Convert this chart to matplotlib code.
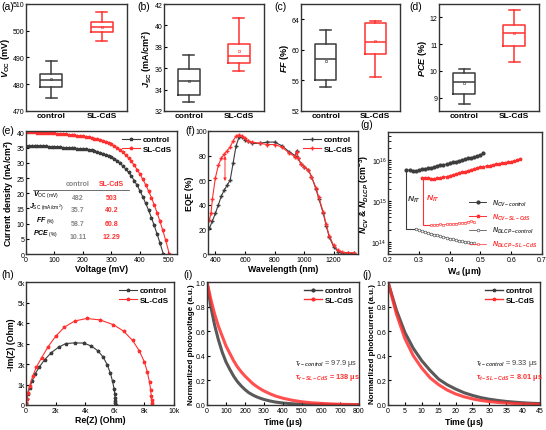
import numpy as np
import matplotlib
matplotlib.use("Agg")
import matplotlib.pyplot as plt
from matplotlib.ticker import FuncFormatter

plt.rcParams['font.family'] = ['Liberation Sans', 'DejaVu Sans']
plt.rcParams['mathtext.fontset'] = 'custom'
plt.rcParams['mathtext.it'] = 'Liberation Sans:italic:bold'
plt.rcParams['mathtext.rm'] = 'Liberation Sans:bold'
plt.rcParams['mathtext.bf'] = 'Liberation Sans:bold'
plt.rcParams['mathtext.default'] = 'regular'
plt.rcParams['axes.linewidth'] = 1.0
plt.rcParams['axes.edgecolor'] = '#333333'
plt.rcParams['xtick.direction'] = 'in'
plt.rcParams['ytick.direction'] = 'in'
plt.rcParams['xtick.major.size'] = 2.5
plt.rcParams['ytick.major.size'] = 2.5
plt.rcParams['xtick.major.pad'] = 1.5
plt.rcParams['ytick.major.pad'] = 1.0
plt.rcParams['xtick.labelsize'] = 5
plt.rcParams['ytick.labelsize'] = 5

GRIS = '#3c3c3c'
ROJO = '#ff3030'

# ---------------- datos: box plots (whislo, q1, med, q3, whishi, media) ----------------
grupos = ['control', 'SL-CdS']
voc_ctrl = [475.0, 479.1, 481.5, 483.7, 488.7, 481.8]
voc_sl = [496.1, 499.4, 501.3, 503.4, 506.9, 501.3]
jsc_ctrl = [32.85, 33.5, 34.8, 35.9, 37.25, 34.8]
jsc_sl = [35.75, 36.47, 37.13, 38.28, 40.65, 37.65]
ff_ctrl = [55.1, 56.1, 58.8, 60.75, 62.6, 58.6]
ff_sl = [56.4, 59.4, 61.0, 63.45, 63.8, 61.1]
pce_ctrl = [8.78, 9.12, 9.58, 9.92, 10.07, 9.55]
pce_sl = [10.33, 10.92, 11.4, 11.7, 12.29, 11.4]

# ---------------- datos: J-V ----------------
v_ctrl = [0, 10, 20, 30, 40, 50, 60, 70, 80, 90, 100, 110, 120, 130, 140, 150, 160, 170, 180, 190,
          200, 210, 220, 230, 240, 250, 260, 270, 280, 290, 300, 310, 320, 330, 340, 350, 360, 370,
          380, 390, 400, 410, 420, 430, 440, 450, 460, 470, 482]
j_ctrl = [35.7, 35.7, 35.6, 35.6, 35.5, 35.5, 35.4, 35.4, 35.3, 35.3, 35.2, 35.2, 35.1, 35.0, 35.0,
          34.9, 34.8, 34.8, 34.7, 34.7, 34.6, 34.5, 34.3, 34.1, 33.9, 33.6, 33.3, 33.0, 32.7, 32.4,
          32.0, 31.4, 30.7, 29.9, 29.0, 28.0, 26.9, 25.6, 24.2, 22.6, 20.8, 18.8, 16.7, 14.5, 12.0,
          9.4, 6.6, 3.7, 0.0]
v_sl = [0, 10, 20, 30, 40, 50, 60, 70, 80, 90, 100, 110, 120, 130, 140, 150, 160, 170, 180, 190,
        200, 210, 220, 230, 240, 250, 260, 270, 280, 290, 300, 310, 320, 330, 340, 350, 360, 370,
        380, 390, 400, 410, 420, 430, 440, 450, 460, 470, 480, 490, 503]
j_sl = [40.2, 40.2, 40.1, 40.1, 40.0, 40.0, 39.9, 39.9, 39.8, 39.8, 39.7, 39.6, 39.6, 39.5, 39.4,
        39.3, 39.2, 39.1, 39.0, 38.9, 38.7, 38.6, 38.4, 38.2, 38.0, 37.8, 37.5, 37.2, 36.9, 36.5,
        36.1, 35.6, 35.0, 34.3, 33.5, 32.6, 31.6, 30.5, 29.2, 27.8, 26.3, 24.6, 22.8, 20.8, 18.6,
        16.2, 13.6, 10.8, 7.8, 4.6, 0.0]
tabla_filas = [r'$\mathit{V}_{OC\ (mV)}$', r'$\mathit{J}_{SC\ (mA/cm^2)}$',
               r'$\mathit{FF}_{\ (\%)}$', r'$\mathit{PCE}_{\ (\%)}$']
tabla_ctrl = ['482', '35.7', '58.7', '10.11']
tabla_sl = ['503', '40.2', '60.8', '12.29']

# ---------------- datos: EQE ----------------
wl_ctrl = [360, 380, 400, 420, 440, 460, 480, 500, 520, 540, 560, 580, 600, 620, 650, 700, 750, 800,
           850, 900, 940, 950, 960, 980, 1000, 1030, 1050, 1080, 1100, 1130, 1150, 1170, 1200, 1230,
           1260, 1300, 1340]
eqe_ctrl = [21, 27, 33, 40, 47, 52, 56, 60, 74, 88, 95, 95, 93, 92, 90, 90, 91, 91, 88, 83, 80, 84,
            78, 73, 71, 68, 63, 53, 45, 33, 23, 14, 6, 2, 1, 0.5, 0.5]
wl_sl = [360, 370, 380, 400, 420, 440, 460, 480, 500, 520, 540, 560, 580, 600, 620, 650, 700, 750, 800,
         850, 900, 940, 950, 960, 980, 1000, 1030, 1050, 1080, 1100, 1130, 1150, 1170, 1200, 1230,
         1260, 1300, 1340]
eqe_sl = [28, 33, 45, 62, 72, 78, 81, 84, 87, 92, 96, 97, 96, 94, 92, 91, 90, 89, 89, 87, 82, 79, 83,
          78, 73, 71, 68, 63, 54, 46, 34, 24, 15, 7, 3, 1.5, 1, 1]

# ---------------- datos: C-V / DLCP ----------------
wd_cv_ctrl = [0.26, 0.27, 0.28, 0.29, 0.30, 0.31, 0.32, 0.33, 0.34, 0.35, 0.36, 0.37, 0.38, 0.39,
              0.40, 0.41, 0.42, 0.43, 0.44, 0.45, 0.46, 0.47, 0.48, 0.49, 0.50, 0.51]
n_cv_ctrl = [5.75e15, 5.75e15, 5.6e15, 5.5e15, 5.75e15, 6.0e15, 6.2e15, 6.5e15, 6.6e15, 6.9e15,
             7.2e15, 7.6e15, 7.9e15, 8.1e15, 8.5e15, 8.9e15, 9.3e15, 9.8e15, 1.02e16, 1.07e16,
             1.12e16, 1.17e16, 1.23e16, 1.29e16, 1.38e16, 1.51e16]
wd_cv_sl = [0.31, 0.32, 0.33, 0.34, 0.35, 0.36, 0.37, 0.38, 0.39, 0.40, 0.41, 0.42, 0.43, 0.44, 0.45,
            0.46, 0.47, 0.48, 0.49, 0.50, 0.51, 0.52, 0.53, 0.54, 0.55, 0.56, 0.57, 0.58, 0.59, 0.60,
            0.61, 0.62, 0.63]
n_cv_sl = [3.7e15, 3.7e15, 3.65e15, 3.5e15, 3.5e15, 3.6e15, 3.7e15, 3.85e15, 4.0e15, 4.2e15, 4.4e15,
           4.6e15, 4.8e15, 5.1e15, 5.3e15, 5.6e15, 5.9e15, 6.2e15, 6.5e15, 6.8e15, 7.0e15, 7.3e15,
           7.5e15, 7.8e15, 8.0e15, 8.3e15, 8.5e15, 8.8e15, 9.1e15, 9.4e15, 9.7e15, 1.0e16, 1.08e16]
wd_dl_ctrl = [0.29, 0.30, 0.31, 0.32, 0.33, 0.34, 0.35, 0.36, 0.37, 0.38, 0.39, 0.40, 0.41, 0.42,
              0.43, 0.44, 0.45, 0.46, 0.47, 0.48]
n_dl_ctrl = [2.05e14, 1.95e14, 1.85e14, 1.75e14, 1.66e14, 1.58e14, 1.5e14, 1.43e14, 1.37e14, 1.3e14,
             1.25e14, 1.2e14, 1.15e14, 1.1e14, 1.06e14, 1.02e14, 9.9e13, 9.6e13, 9.4e13, 9.2e13]
wd_dl_sl = [0.34, 0.35, 0.36, 0.37, 0.38, 0.39, 0.40, 0.41, 0.42, 0.43, 0.44, 0.45, 0.46, 0.47, 0.48]
n_dl_sl = [2.6e14, 2.55e14, 2.65e14, 2.7e14, 2.65e14, 2.7e14, 2.75e14, 2.7e14, 2.8e14, 2.85e14,
           2.9e14, 2.95e14, 3.1e14, 3.2e14, 3.05e14]

# ---------------- datos: Nyquist (Ohm) ----------------
re_ctrl = [0, 20, 60, 130, 250, 400, 600, 900, 1250, 1700, 2200, 2700, 3300, 3900, 4400, 4850, 5200,
           5500, 5700, 5850, 5950, 6000, 6020, 6030, 6040, 6050]
im_ctrl = [0, 100, 300, 550, 850, 1150, 1500, 1850, 2200, 2550, 2820, 3000, 3030, 3020, 2880, 2650,
           2350, 1950, 1550, 1150, 800, 550, 350, 200, 100, 0]
re_sl = [0, 20, 50, 120, 250, 450, 700, 1050, 1500, 2000, 2600, 3300, 4100, 5000, 5900, 6600, 7200,
         7650, 8000, 8200, 8350, 8420, 8460, 8480, 8490, 8500]
im_sl = [0, 100, 300, 600, 950, 1400, 1850, 2300, 2850, 3350, 3800, 4100, 4220, 4150, 3920, 3600,
         3150, 2650, 2100, 1600, 1100, 750, 450, 250, 100, 0]

# ---------------- datos: TPV / TPC ----------------
t_tpv_ctrl = [0, 20, 40, 60, 80, 100, 120, 140, 160, 180, 200, 220, 240, 260, 280, 300, 330, 360, 400,
              450, 500, 550, 600, 700, 800]
v_tpv_ctrl = [1.0, 0.80, 0.65, 0.53, 0.43, 0.35, 0.29, 0.235, 0.19, 0.155, 0.125, 0.10, 0.082, 0.067,
              0.055, 0.045, 0.033, 0.024, 0.016, 0.010, 0.006, 0.004, 0.003, 0.002, 0.001]
t_tpv_sl = [0, 20, 40, 60, 80, 100, 120, 140, 160, 180, 200, 220, 240, 260, 280, 300, 330, 360, 400,
            450, 500, 550, 600, 650, 700, 800]
v_tpv_sl = [1.0, 0.86, 0.74, 0.64, 0.56, 0.48, 0.42, 0.36, 0.31, 0.27, 0.235, 0.205, 0.175, 0.152,
            0.132, 0.114, 0.092, 0.073, 0.055, 0.038, 0.026, 0.018, 0.013, 0.009, 0.006, 0.003]
t_tpc = [0, 2.5, 5, 7.5, 10, 12.5, 15, 17.5, 20, 22.5, 25, 27.5, 30, 32.5, 35, 37.5, 40, 42.5, 45]
i_tpc_ctrl = [1.0, 0.77, 0.59, 0.46, 0.36, 0.28, 0.21, 0.165, 0.13, 0.10, 0.078, 0.06, 0.047, 0.037,
              0.029, 0.023, 0.018, 0.014, 0.012]
i_tpc_sl = [1.0, 0.74, 0.54, 0.40, 0.30, 0.22, 0.165, 0.122, 0.09, 0.067, 0.05, 0.037, 0.028, 0.021,
            0.016, 0.012, 0.009, 0.007, 0.006]

W, H = 546, 431
fig = plt.figure(figsize=(W / 100, H / 100), dpi=100)


def ejes(x0, x1, y0, y1):
    # convierte coordenadas en pixeles a posicion de figura
    return fig.add_axes([x0 / W, 1 - y1 / H, (x1 - x0) / W, (y1 - y0) / H])


def etiqueta(x, y, txt):
    fig.text(x / W, 1 - y / H, txt, fontsize=7.5, va='top', ha='left')


LBL = dict(fontsize=6.3, fontweight='bold')
LEG = dict(loc='upper right', frameon=False, prop=dict(size=5.8, weight='bold'), handlelength=2.2,
           borderaxespad=0.2, labelspacing=0.2, handletextpad=0.4)


# ---------------- fila 1: box plots ----------------
def caja(ax, ctrl, sl, ylim, yticks, ylabel):
    stats = []
    for d, lab in zip([ctrl, sl], grupos):
        stats.append(dict(whislo=d[0], q1=d[1], med=d[2], q3=d[3], whishi=d[4], mean=d[5],
                          label=lab, fliers=[]))
    for k, (s, c) in enumerate(zip(stats, [GRIS, ROJO])):
        ax.bxp([s], positions=[k + 1], widths=0.43, capwidths=0.22, showmeans=True,
               boxprops=dict(color=c, lw=1.1), medianprops=dict(color=c, lw=1.1),
               whiskerprops=dict(color=c, lw=1.1), capprops=dict(color=c, lw=1.1),
               meanprops=dict(marker='s', ms=1.5, mfc='none', mec=c, mew=0.4))
    ax.set_xlim(0.5, 2.5)
    ax.set_ylim(*ylim)
    ax.set_yticks(yticks)
    ax.set_xticks([1, 2])
    ax.set_xticklabels(grupos, fontsize=6, fontweight='bold')
    ax.tick_params(axis='x', length=0, pad=0.5)
    ax.set_ylabel(ylabel, fontsize=6.5, fontweight='bold', labelpad=0.5)


ax = ejes(26, 127, 5, 112)
caja(ax, voc_ctrl, voc_sl, (470, 510), [470, 480, 490, 500, 510], r'$\mathit{V}_{OC}$ (mV)')
ax = ejes(164, 264, 5, 112)
caja(ax, jsc_ctrl, jsc_sl, (32, 42), [32, 34, 36, 38, 40, 42], r'$\mathit{J}_{SC}$ (mA/cm$^2$)')
ax = ejes(301, 400, 5, 112)
caja(ax, ff_ctrl, ff_sl, (52, 66), [52, 56, 60, 64], r'$\mathit{FF}$ (%)')
ax = ejes(439, 539, 5, 112)
caja(ax, pce_ctrl, pce_sl, (8.5, 12.5), [9, 10, 11, 12], r'$\mathit{PCE}$ (%)')

# ---------------- (e) J-V ----------------
ax = ejes(26, 177, 132, 255)
ax.plot(v_ctrl, j_ctrl, '-*', color=GRIS, ms=2.5, lw=0.8, label='control')
ax.plot(v_sl, j_sl, '-*', color=ROJO, ms=2.5, lw=0.8, label='SL-CdS')
ax.set_xlim(0, 530)
ax.set_ylim(0, 40.5)
ax.set_xticks([0, 100, 200, 300, 400, 500])
ax.set_yticks(range(0, 41, 5))
ax.set_xlabel('Voltage (mV)', labelpad=1, **LBL)
ax.set_ylabel('Current density (mA/cm$^2$)', labelpad=0.5, **LBL)
ax.legend(**LEG)
ax.text(183, 22.8, 'control', color='#888888', fontsize=5, fontweight='bold', ha='center')
ax.text(300, 22.8, 'SL-CdS', color=ROJO, fontsize=5, fontweight='bold', ha='center')
ax.plot([25, 362], [21.2, 21.2], color='#555555', lw=0.6)
for k, yy in enumerate([18.0, 14.0, 9.7, 5.2]):
    ax.text(70, yy, tabla_filas[k], fontsize=5, ha='center', va='bottom')
    ax.text(183, yy, tabla_ctrl[k], color='#888888', fontsize=5, fontweight='bold', ha='center')
    ax.text(300, yy, tabla_sl[k], color=ROJO, fontsize=5, fontweight='bold', ha='center')

# ---------------- (f) EQE ----------------
ax = ejes(208, 358, 132, 255)
ax.plot(wl_ctrl, eqe_ctrl, '-+', color=GRIS, ms=2.5, lw=0.8, label='control')
ax.plot(wl_sl, eqe_sl, '-+', color=ROJO, ms=2.5, lw=0.8, label='SL-CdS')
ax.annotate('', xy=(465, 57), xytext=(465, 82),
            arrowprops=dict(arrowstyle='<|-|>', color=ROJO, lw=0.7, mutation_scale=4))
ax.set_xlim(350, 1365)
ax.set_ylim(0, 100)
ax.set_xticks([400, 600, 800, 1000, 1200])
ax.set_yticks([0, 20, 40, 60, 80, 100])
ax.set_xlabel('Wavelength (nm)', labelpad=1, **LBL)
ax.set_ylabel('EQE (%)', labelpad=0.5, **LBL)
ax.legend(**LEG)

# ---------------- (g) C-V y DLCP ----------------
ax = ejes(388, 542, 133, 255)
ax.set_yscale('log')
ax.plot([0.26, 0.26, 0.29], [n_cv_ctrl[0], n_dl_ctrl[0], n_dl_ctrl[0]], color=GRIS, lw=0.8)
ax.plot([0.315, 0.315, 0.34], [n_cv_sl[0], n_dl_sl[0], n_dl_sl[0]], color=ROJO, lw=0.8)
ax.plot(wd_cv_ctrl, n_cv_ctrl, '-o', color=GRIS, ms=2, lw=0.7, label=r'$\mathit{N}_{\mathit{CV-control}}$')
ax.plot(wd_cv_sl, n_cv_sl, '-*', color=ROJO, ms=2.5, lw=0.7, label=r'$\mathit{N}_{\mathit{CV-SL-CdS}}$')
ax.plot(wd_dl_ctrl, n_dl_ctrl, '-o', color=GRIS, ms=2, lw=0.5, mfc='white', mew=0.4,
        label=r'$\mathit{N}_{\mathit{DLCP-control}}$')
ax.plot(wd_dl_sl, n_dl_sl, '-s', color=ROJO, ms=2, lw=0.5, mfc='white', mew=0.4,
        label=r'$\mathit{N}_{\mathit{DLCP-SL-CdS}}$')
ax.text(0.263, 1.0e15, r'$\mathit{N}_{\mathit{IT}}$', color=GRIS, fontsize=6)
ax.text(0.322, 1.1e15, r'$\mathit{N}_{\mathit{IT}}$', color=ROJO, fontsize=6)
ax.set_xlim(0.2, 0.7)
ax.set_ylim(5e13, 5e16)
ax.set_xticks([0.2, 0.3, 0.4, 0.5, 0.6, 0.7])
ax.set_xlabel(r'W$_d$ ($\mu$m)', labelpad=1, **LBL)
ax.set_ylabel(r'$\mathit{N}_{\mathit{CV}}$ & $\mathit{N}_{\mathit{DLCP}}$ (cm$^{-3}$)', labelpad=0.5, **LBL)
ax.legend(loc='lower right', frameon=False, prop=dict(size=5), handlelength=2.4,
          labelcolor='linecolor', borderaxespad=0.3, labelspacing=0.5)

# ---------------- (h) Nyquist ----------------
ax = ejes(26, 174, 283, 406)
ax.plot(re_ctrl, im_ctrl, '-*', color=GRIS, ms=2.5, lw=0.8, label='control')
ax.plot(re_sl, im_sl, '-*', color=ROJO, ms=2.5, lw=0.8, label='SL-CdS')
ax.set_xlim(0, 10000)
ax.set_ylim(0, 6000)
ax.set_xticks(range(0, 10001, 2000))
ax.set_yticks(range(0, 6001, 1000))
kfmt = FuncFormatter(lambda v, p: '0' if v == 0 else f'{v / 1000:g}k')
ax.xaxis.set_major_formatter(kfmt)
ax.yaxis.set_major_formatter(kfmt)
ax.set_xlabel('Re(Z) (Ohm)', labelpad=1, **LBL)
ax.set_ylabel('-Im(Z) (Ohm)', labelpad=0.5, **LBL)
ax.legend(**LEG)

# ---------------- (i) TPV ----------------
ax = ejes(207, 359, 283, 406)
ax.plot(t_tpv_ctrl, v_tpv_ctrl, color=GRIS, lw=2.2, alpha=0.85)
ax.plot(t_tpv_sl, v_tpv_sl, color=ROJO, lw=2.2, alpha=0.85)
ax.plot([], [], '-o', color=GRIS, ms=2, lw=1, label='control')
ax.plot([], [], '-o', color=ROJO, ms=2, lw=1, label='SL-CdS')
ax.set_xlim(0, 800)
ax.set_ylim(0, 1.0)
ax.set_xticks(range(0, 801, 100))
ax.set_yticks([0, 0.2, 0.4, 0.6, 0.8, 1.0])
ax.set_xlabel(r'Time ($\mu$s)', labelpad=1, **LBL)
ax.set_ylabel('Normarlized photovoltage (a.u.)', labelpad=0.5, fontsize=5.8, fontweight='bold')
ax.legend(**LEG)
ax.text(465, 0.33, r'$\tau_{\mathit{r-control}}$ = 97.9 $\mu$s', color=GRIS, fontsize=5.3)
ax.text(465, 0.22, r'$\tau_{\mathit{r-SL-CdS}}$ = 138 $\mu$s', color=ROJO, fontsize=5.3,
        fontweight='bold')

# ---------------- (j) TPC ----------------
ax = ejes(388, 540, 283, 406)
ax.plot(t_tpc, i_tpc_ctrl, color=GRIS, lw=2.2, alpha=0.85)
ax.plot(t_tpc, i_tpc_sl, color=ROJO, lw=2.2, alpha=0.85)
ax.plot([], [], '-*', color=GRIS, ms=2.5, lw=1, label='control')
ax.plot([], [], '-*', color=ROJO, ms=2.5, lw=1, label='SL-CdS')
ax.set_xlim(0, 45)
ax.set_ylim(0, 1.0)
ax.set_xticks(range(0, 46, 5))
ax.set_yticks([0, 0.2, 0.4, 0.6, 0.8, 1.0])
ax.set_xlabel(r'Time ($\mu$s)', labelpad=1, **LBL)
ax.set_ylabel('Normarlized photocurrent (a.u.)', labelpad=0.5, fontsize=5.8, fontweight='bold')
ax.legend(**LEG)
ax.text(26, 0.33, r'$\tau_{\mathit{t-control}}$ = 9.33 $\mu$s', color=GRIS, fontsize=5.3)
ax.text(26, 0.22, r'$\tau_{\mathit{t-SL-CdS}}$ = 8.01 $\mu$s', color=ROJO, fontsize=5.3,
        fontweight='bold')

for x, y, t in [(1, 2, '(a)'), (137, 2, '(b)'), (274, 2, '(c)'), (409, 2, '(d)'), (1, 126, '(e)'),
                (185, 126, '(f)'), (360, 120, '(g)'), (1, 270, '(h)'), (183, 270, '(i)'),
                (362, 270, '(j)')]:
    etiqueta(x, y, t)

fig.savefig('out.png', dpi=100)
